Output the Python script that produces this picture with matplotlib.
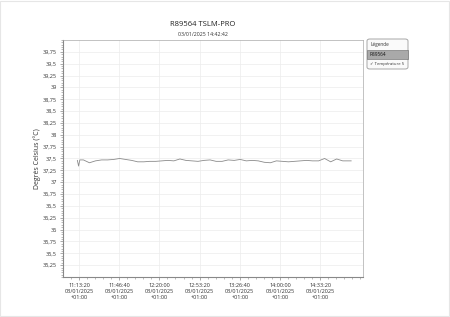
import matplotlib
matplotlib.use('Agg')
import matplotlib.pyplot as plt
from matplotlib.ticker import FixedLocator, MultipleLocator, FuncFormatter
from matplotlib.patches import FancyBboxPatch, Rectangle

title = 'R89564 TSLM-PRO'
subtitle = '03/01/2025 14:42:42'
ylabel = 'Degrés Celsius (°C)'
legend_title = 'Légende'
legend_group = 'R89564'
series_name = 'Température 5'

times = ['11:12', '11:13', '11:14', '11:17', '11:22', '11:27', '11:32', '11:37',
         '11:42', '11:47', '11:52', '11:57', '12:02', '12:07', '12:12', '12:17',
         '12:22', '12:27', '12:32', '12:37', '12:42', '12:47', '12:52', '12:57',
         '13:02', '13:07', '13:12', '13:17', '13:22', '13:27', '13:32', '13:37',
         '13:42', '13:47', '13:52', '13:57', '14:02', '14:07', '14:12', '14:17',
         '14:22', '14:27', '14:32', '14:37', '14:42', '14:47', '14:52', '14:57',
         '14:59']
temps = [37.46, 37.34, 37.47, 37.47, 37.41, 37.45, 37.47, 37.47,
         37.48, 37.50, 37.48, 37.46, 37.43, 37.43, 37.44, 37.44,
         37.45, 37.46, 37.45, 37.49, 37.46, 37.45, 37.44, 37.46,
         37.47, 37.44, 37.44, 37.47, 37.46, 37.48, 37.45, 37.46,
         37.45, 37.42, 37.41, 37.45, 37.44, 37.43, 37.44, 37.45,
         37.46, 37.45, 37.45, 37.50, 37.43, 37.49, 37.45, 37.45,
         37.45]

x_labels = ['11:13:20', '11:46:40', '12:20:00', '12:53:20', '13:26:40', '14:00:00', '14:33:20']
date_label = '03/01/2025'
tz_label = '+01:00'


def to_sec(s):
    parts = [int(p) for p in s.split(':')]
    while len(parts) < 3:
        parts.append(0)
    return parts[0] * 3600 + parts[1] * 60 + parts[2]


secs = [to_sec(t) for t in times]
tick_secs = [to_sec(t) for t in x_labels]

plt.rcParams['font.family'] = ['Open Sans', 'DejaVu Sans']

fig = plt.figure(figsize=(4.5, 3.17), dpi=100)
ax = fig.add_axes([63 / 450, 1 - 277 / 317, 300 / 450, 237 / 317])

ax.plot(secs, temps, color='#8a8a8a', lw=0.6)

ax.set_xlim(to_sec('11:00:04'), to_sec('15:08:49'))
ax.set_ylim(35, 40)

ax.xaxis.set_major_locator(FixedLocator(tick_secs))
ax.xaxis.set_minor_locator(MultipleLocator(400))
ax.set_xticklabels([t + '\n' + date_label + '\n' + tz_label for t in x_labels])

ax.yaxis.set_major_locator(FixedLocator([35 + 0.25 * i for i in range(1, 20)]))
ax.yaxis.set_minor_locator(MultipleLocator(0.05))
ax.yaxis.set_major_formatter(FuncFormatter(lambda v, p: ('%g' % v).replace('.', ',')))

ax.grid(True, which='major', color='#ececec', lw=0.5)
ax.set_axisbelow(True)
ax.tick_params(axis='both', which='major', labelsize=4, length=2.5, width=0.5,
               color='#888888', labelcolor='#333333', pad=2)
ax.tick_params(axis='both', which='minor', length=1.2, width=0.4, color='#888888')
for side in ['left', 'bottom']:
    ax.spines[side].set_color('#888888')
    ax.spines[side].set_linewidth(0.8)
for side in ['top', 'right']:
    ax.spines[side].set_color('#aaaaaa')
    ax.spines[side].set_linewidth(0.5)

ax.set_ylabel(ylabel, fontsize=5, color='#333333', labelpad=1)

fig.text(203 / 450, 1 - 25 / 317, title, ha='center', va='center', fontsize=5.5, color='#222222')
fig.text(203 / 450, 1 - 34.5 / 317, subtitle, ha='center', va='center', fontsize=3.8, color='#333333')

# legend panel
lx0, lx1 = 367 / 450, 408 / 450
ly_top, ly_bot = 1 - 39 / 317, 1 - 69 / 317
fig.patches.append(FancyBboxPatch((lx0, ly_bot), lx1 - lx0, ly_top - ly_bot,
                                  boxstyle='round,pad=0,rounding_size=0.006',
                                  transform=fig.transFigure, facecolor='#fafafa',
                                  edgecolor='#999999', lw=0.6))
fig.patches.append(Rectangle((lx0, 1 - 59 / 317), lx1 - lx0, 9 / 317,
                             transform=fig.transFigure, facecolor='#a9a9a9',
                             edgecolor='#666666', lw=0.4))
fig.text(lx0 + 3 / 450, 1 - 44.5 / 317, legend_title, fontsize=3.4, va='center', color='#333333')
fig.text(lx0 + 2 / 450, 1 - 54.5 / 317, legend_group, fontsize=3.4, va='center', color='#111111')
fig.text(lx0 + 2.5 / 450, 1 - 63.5 / 317, '✓ ' + series_name, fontsize=3.1, va='center', color='#333333')

fig.patches.append(Rectangle((0.001, 0.002), 0.997, 0.996, transform=fig.transFigure,
                             facecolor='none', edgecolor='#e6e6e6', lw=0.8))

fig.savefig('out.png', dpi=100)
